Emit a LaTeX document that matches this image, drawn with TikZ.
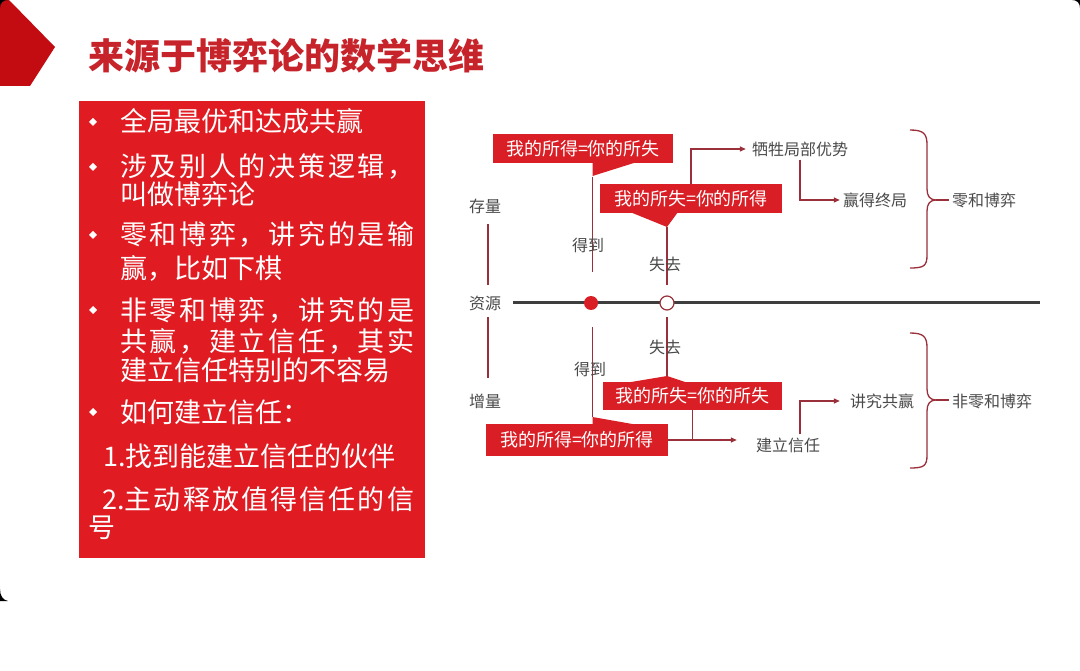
\documentclass[tikz,border=0pt]{standalone}
\usepackage{fontspec}
\setmainfont{Noto Sans CJK SC}
\usetikzlibrary{arrows.meta}
\definecolor{pred}{HTML}{E01B22}
\definecolor{boxred}{HTML}{D91E25}
\definecolor{titlered}{HTML}{C7232B}
\definecolor{penta}{HTML}{C30B12}
\definecolor{wine}{HTML}{99303A}
\definecolor{axisgray}{HTML}{3E3E3E}
\definecolor{lbl}{HTML}{4A4A4A}
\newcommand\lsp[1]{\addfontfeature{LetterSpace=#1}}
\begin{document}
\begin{tikzpicture}[x=1pt,y=-1pt,
  panel/.style={anchor=base west, inner sep=0pt, text=white, font=\fontsize{27}{27}\selectfont},
  lab/.style={text=lbl, font=\fontsize{16}{16}\selectfont, inner sep=3pt},
  rbox/.style={fill=boxred, text=white, font=\fontsize{18}{18}\selectfont, inner sep=0pt, minimum height=29pt},
  conn/.style={draw=wine, line width=1.3pt},
  arr/.style={conn, -{Triangle[length=6pt,width=5pt]}},
  axisline/.style={draw=axisgray, line width=3pt},
  corner/.style={fill=black}]
\useasboundingbox (0,0) rectangle (1080,671);
\fill[white] (0,0) rectangle (1080,671);
% header pentagon and slide corners
\fill[penta] (0,0) -- (9,0) -- (55,47) -- (30,86) -- (0,86) -- cycle;
\fill[corner] (0,0) -- (8,0) .. controls (3,0) and (0,3) .. (0,8) -- cycle;
\fill[corner] (1080,0) -- (1072,0) .. controls (1077,0) and (1080,3) .. (1080,8) -- cycle;
\fill[corner] (0,589) .. controls (0,596) and (3,600) .. (8,601) -- (0,601) -- cycle;
% title
\node[anchor=base west, inner sep=0pt, text=titlered, font=\fontsize{36}{36}\selectfont\bfseries] (title) at (88,70) {来源于博弈论的数学思维};
% left panel
\node[fill=pred, minimum width=346pt, minimum height=457pt, anchor=north west, inner sep=0pt] (panelbox) at (79,101) {};
\foreach \c in {122,167,235,310,412}
  \fill[white] (93,\c-4) -- (97,\c) -- (93,\c+4) -- (89,\c) -- cycle;
\node[panel] (p1) at (120,132) {全局最优和达成共赢};
\node[panel] (p2) at (120,177) {\lsp{10}涉及别人的决策逻辑，};
\node[panel] (p3) at (120,205) {叫做博弈论};
\node[panel] (p4) at (120,245) {\lsp{10}零和博弈，讲究的是输};
\node[panel] (p5) at (120,279) {赢，比如下棋};
\node[panel] (p6) at (120,320) {\lsp{10}非零和博弈，讲究的是};
\node[panel] (p7) at (120,352) {\lsp{10}共赢，建立信任，其实};
\node[panel] (p8) at (120,381) {建立信任特别的不容易};
\node[panel] (p9) at (120,422) {如何建立信任：};
\node[panel] (p10) at (103,466) {1.找到能建立信任的伙伴};
\node[panel] (p11) at (102,509) {2.\lsp{8}主动释放值得信任的信};
\node[panel] (p12) at (88,537) {号};
% axis
\coordinate (ax0) at (513,303);
\coordinate (ax1) at (1040,303);
\draw[axisline] (ax0) -- (ax1);
\node[circle, fill=boxred, minimum size=14pt, inner sep=0pt] (d1) at (591,303) {};
\node[circle, fill=white, draw=wine, line width=1.2pt, minimum size=14pt, inner sep=0pt] (d2) at (667,303) {};
% left labels
\node[lab] (cunliang) at (485,206) {存量};
\node[lab] (ziyuan) at (485,303) {资源};
\node[lab] (zengliang) at (485,401) {增量};
\coordinate (c1) at (488,224); \coordinate (c2) at (488,285);
\coordinate (c3) at (488,317); \coordinate (c4) at (488,378);
\draw[conn] (c1) -- (c2);
\draw[conn] (c3) -- (c4);
% boxes
\node[rbox, minimum width=180pt] (b1) at (583,148.5) {我的所得=你的所失};
\node[rbox, minimum width=182pt] (b2) at (691,198.5) {我的所失=你的所得};
\node[rbox, minimum width=179pt, minimum height=28pt] (b3) at (692.5,396) {我的所失=你的所失};
\node[rbox, minimum width=182pt, minimum height=32pt] (b4) at (577,440) {我的所得=你的所得};
\fill[boxred] (592.5,162) -- (592.5,176) -- (637,162) -- cycle;
\fill[boxred] (630,212) -- (667,227) -- (678,212) -- cycle;
\fill[boxred] (625,383) -- (667,376) -- (688,383) -- cycle;
\fill[boxred] (592.5,425) -- (592.5,417) -- (638,425) -- cycle;
% vertical connectors
\coordinate (t1) at (592.5,177); \coordinate (e1) at (592.5,272);
\coordinate (t2) at (667,227);   \coordinate (e2) at (667,285);
\coordinate (t3) at (667,376);   \coordinate (e3) at (667,317);
\coordinate (t4) at (592.5,417); \coordinate (e4) at (592.5,327);
\draw[conn] (t1) -- (e1);
\draw[conn] (t2) -- (e2);
\draw[conn] (e3) -- (t3);
\draw[conn] (e4) -- (t4);
\node[lab] (dedao1) at (588,245) {得到};
\node[lab] (shiqu1) at (665,264) {失去};
\node[lab] (shiqu2) at (665,347) {失去};
\node[lab] (dedao2) at (590,369) {得到};
% upper branch
\node[lab] (sac) at (800,149) {牺牲局部优势};
\node[lab] (win) at (875,200) {赢得终局};
\node[lab] (zs) at (984,200.5) {零和博弈};
\draw[arr, shorten >=3pt] (b2.north) |- (sac.west);
\draw[arr] (sac.south) |- (win.west);
\draw[conn] (910,130) .. controls (924,130) and (927,134) .. (927,145) -- (927,189) .. controls (927,196) and (930,200) .. (936,200) .. controls (930,200) and (927,204) .. (927,211) -- (927,255) .. controls (927,266) and (924,268) .. (910,268);
\coordinate (br1) at (936,200);
\draw[conn] (br1) -- (br1 -| zs.west);
% lower branch
\node[lab] (trust) at (788,445) {建立信任};
\node[lab] (gong) at (882,401) {讲究共赢};
\node[lab] (nzs) at (992,401) {非零和博弈};
\draw[conn] (b3.south) -- (b3.south |- b4.east);
\draw[arr, shorten >=16pt] (b4.east) -- (b4.east -| trust.west);
\draw[arr, shorten >=7pt] ([xshift=12pt]trust.north) |- (gong.west);
\draw[conn] (910,333) .. controls (924,333) and (927,337) .. (927,348) -- (927,389) .. controls (927,396) and (930,400) .. (936,400) .. controls (930,400) and (927,404) .. (927,411) -- (927,455) .. controls (927,466) and (924,468) .. (910,468);
\coordinate (br2) at (936,400);
\draw[conn] (br2) -- (br2 -| nzs.west);
\end{tikzpicture}
\end{document}
